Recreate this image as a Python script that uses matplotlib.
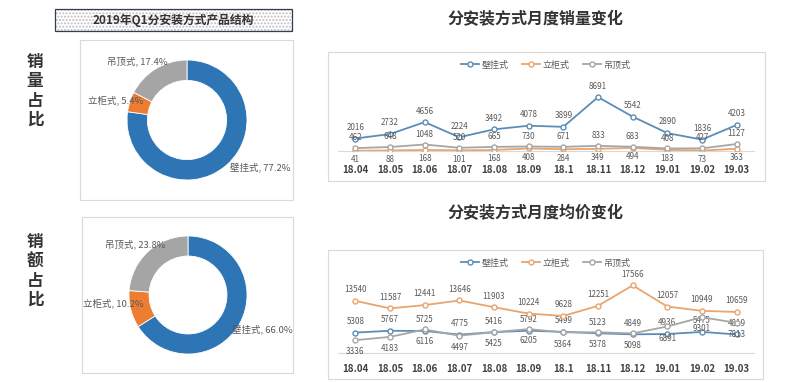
#!/usr/bin/env python3

import matplotlib
matplotlib.use('Agg')
import matplotlib.pyplot as plt
from matplotlib.patches import Rectangle
from matplotlib.lines import Line2D

plt.rcParams['font.family'] = ['Noto Sans CJK SC', 'DejaVu Sans']

# share of units / revenue by installation type, 2019 Q1
types = ['壁挂式', '立柜式', '吊顶式']
volume_share = [77.2, 5.4, 17.4]
revenue_share = [66.0, 10.2, 23.8]

months = ['18.04', '18.05', '18.06', '18.07', '18.08', '18.09',
          '18.1', '18.11', '18.12', '19.01', '19.02', '19.03']

# monthly sales volume
vol_wall = [2016, 2732, 4656, 2224, 3492, 4078, 3899, 8691, 5542, 2890, 1836, 4203]
vol_floor = [41, 88, 168, 101, 168, 408, 284, 349, 494, 183, 73, 363]
vol_ceiling = [462, 648, 1048, 520, 665, 730, 671, 833, 683, 408, 427, 1127]

# monthly average price
price_wall = [5308, 5767, 5725, 4775, 5416, 5792, 5499, 5123, 4849, 4936, 5475, 4819]
price_floor = [13540, 11587, 12441, 13646, 11903, 10224, 9628, 12251, 17566, 12057, 10949, 10659]
price_ceiling = [3336, 4183, 6116, 4497, 5425, 6205, 5364, 5378, 5098, 6891, 9301, 7813]

W, H = 788, 382
PIE_COLORS = ['#2E75B6', '#ED7D31', '#A5A5A5']
LINE_COLORS = ['#5B8DB8', '#E9A56E', '#A6A6A6']
TXT = '#595959'


def box(x0, y0, x1, y1):
	# pixel box (top-left origin) -> figure fraction rect
	return [x0 / W, 1 - y1 / H, (x1 - x0) / W, (y1 - y0) / H]


def frame(fig, x0, y0, x1, y1, color='#D9D9D9', lw=0.8):
	fig.patches.append(Rectangle((x0 / W, 1 - y1 / H), (x1 - x0) / W, (y1 - y0) / H,
		transform=fig.transFigure, fill=False, edgecolor=color, linewidth=lw))


def donut(fig, rect, lim, shares, label_pos):
	ax = fig.add_axes(rect)
	ax.pie(shares, colors=PIE_COLORS, startangle=90, counterclock=False,
		wedgeprops=dict(width=0.34, edgecolor='white', linewidth=0.6))
	ax.set_xlim(-lim, lim)
	ax.set_ylim(-lim, lim)
	ax.set_aspect('equal')
	ax.axis('off')
	for name, share, (x, y, ha) in zip(types, shares, label_pos):
		ax.text(x, y, '%s, %.1f%%' % (name, share), ha=ha, va='center',
			fontsize=6.8, color=TXT)


def line_chart(fig, rect, ymax, series, offsets, tick_pad):
	ax = fig.add_axes(rect)
	xs = list(range(len(months)))
	for values, color, off in zip(series, LINE_COLORS, offsets):
		ax.plot(xs, values, color=color, linewidth=1.3, marker='o', markersize=3.6,
			markerfacecolor='white', markeredgecolor=color, markeredgewidth=1.0, zorder=3)
		for x, v in zip(xs, values):
			ax.annotate('%d' % v, (x, v), xytext=(0, off), textcoords='offset points',
				ha='center', va='center', fontsize=5.8, color=TXT)
	ax.set_xlim(-0.5, len(months) - 0.5)
	ax.set_ylim(0, ymax)
	ax.set_xticks(xs)
	ax.set_xticklabels(months, fontsize=7, fontweight='bold', color='#404040')
	ax.tick_params(axis='x', length=0, pad=tick_pad)
	ax.set_yticks([])
	for s in ['top', 'left', 'right']:
		ax.spines[s].set_visible(False)
	ax.spines['bottom'].set_color('#D9D9D9')
	ax.patch.set_alpha(0)
	return ax


def legend(fig, y):
	handles = [Line2D([], [], color=c, linewidth=1.3, marker='o', markersize=3.6,
		markerfacecolor='white', markeredgecolor=c) for c in LINE_COLORS]
	fig.legend(handles, types, loc='center', bbox_to_anchor=(546 / W, 1 - y / H),
		ncol=3, frameon=False, fontsize=6.5, handlelength=2.0, columnspacing=1.5,
		handletextpad=0.3, labelcolor=TXT)


fig = plt.figure(figsize=(W / 100, H / 100), dpi=100)

# left title box with dotted fill
fig.patches.append(Rectangle((55 / W, 1 - 31 / H), 237 / W, 22 / H, transform=fig.transFigure,
	facecolor='white', edgecolor='#BFBFBF', hatch='.....', linewidth=0))
frame(fig, 55, 9, 292, 31, color='#2F3F4F', lw=0.9)
fig.text(173 / W, 1 - 20 / H, '2019年Q1分安装方式产品结构', ha='center', va='center',
	fontsize=8.5, fontweight='bold', color='#333333')

fig.text(35 / W, 1 - 91 / H, '销\n量\n占\n比', ha='center', va='center', fontsize=12,
	fontweight='bold', color='#333333', linespacing=1.1)
fig.text(35 / W, 1 - 271 / H, '销\n额\n占\n比', ha='center', va='center', fontsize=12,
	fontweight='bold', color='#333333', linespacing=1.1)

frame(fig, 80, 40, 293, 200)
frame(fig, 82, 217, 293, 373)

donut(fig, box(117, 50, 257, 190), 1.167, volume_share,
	[(0.72, -0.8, 'left'), (-0.73, 0.32, 'right'), (-0.33, 0.97, 'right')])
donut(fig, box(118, 225, 258, 365), 1.186, revenue_share,
	[(0.74, -0.59, 'left'), (-0.76, -0.14, 'right'), (-0.39, 0.85, 'right')])

# right side line charts
fig.text(535 / W, 1 - 19 / H, '分安装方式月度销量变化', ha='center', va='center',
	fontsize=11.5, fontweight='bold', color='#333333')
fig.text(535 / W, 1 - 213 / H, '分安装方式月度均价变化', ha='center', va='center',
	fontsize=11.5, fontweight='bold', color='#333333')

frame(fig, 328, 52, 765, 181)
frame(fig, 328, 250, 763, 379)

line_chart(fig, box(338, 89, 754, 151), 10000,
	[vol_wall, vol_floor, vol_ceiling], [8, -6.5, 7.5], 10)
legend(fig, 65)

line_chart(fig, box(338, 276, 754, 353), 20000,
	[price_wall, price_floor, price_ceiling], [8, 8, -8.5], 8)
legend(fig, 263)

fig.savefig('out.png', dpi=100)
